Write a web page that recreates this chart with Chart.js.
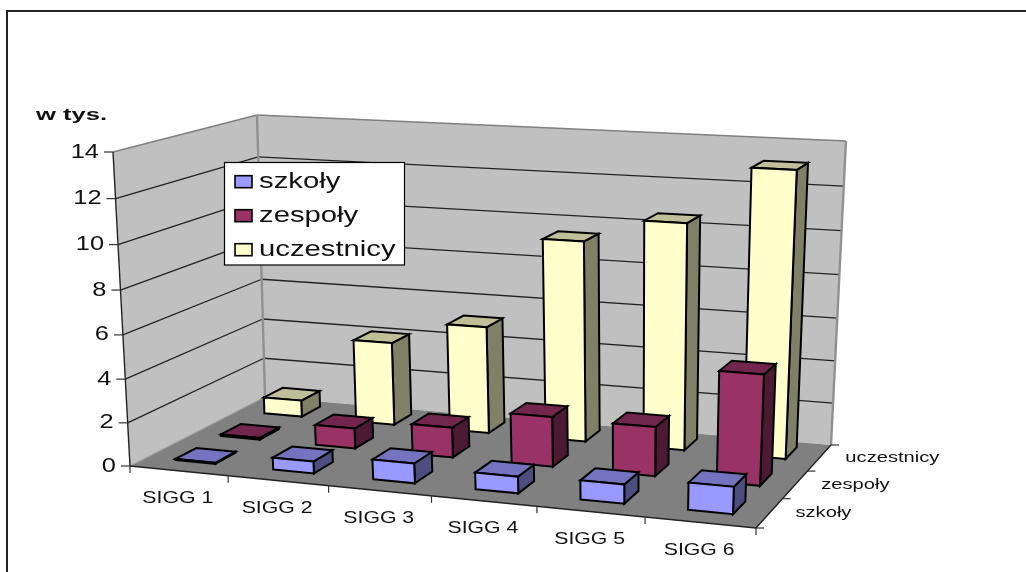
<!DOCTYPE html>
<html>
<head>
<meta charset="utf-8">
<title>SIGG</title>
<script src="https://cdn.jsdelivr.net/npm/chart.js@4"></script>
<style>
  html, body { margin: 0; background: #fff; }
  canvas { display: block; }
</style>
</head>
<body>
<canvas id="chart" width="1026" height="572"></canvas>
<script>
/* =====================
   DATA
===================== */

const categories = ['SIGG 1', 'SIGG 2', 'SIGG 3', 'SIGG 4', 'SIGG 5', 'SIGG 6'];
const seriesNames = ['szkoły', 'zespoły', 'uczestnicy'];
const szkoly = [0.05, 0.55, 0.9, 0.75, 0.85, 1.2];
const zespoly = [0.08, 0.95, 1.4, 2.3, 2.25, 5.0];
const uczestnicy = [0.8, 4.0, 5.1, 9.4, 10.5, 13.1];
const unitLabel = 'w tys.';

/* =====================
   3D VIEW
===================== */

// wall and floor corners as seen in the picture
const floorQuad = [[130, 466], [756, 528], [831, 445], [265, 397]];
const roofQuad = [[113, 152], [769, 190], [846, 141], [257, 115]];
const verticalRatio = 0.956;  // perspective shrink along the value axis
const perspectiveEase = 0.3;  // pulls the floor mapping part way to a plain bilinear one
const barWidth = 0.41;        // share of a category
const barDepth = 0.45;        // share of a depth band
const barDepthShift = 0.08;   // bars sit a little behind the middle of their band

const colors = [
    { front: '#9999ff', top: '#7373bf', side: '#4d4d80' },
    { front: '#993366', top: '#73264d', side: '#4d1a33' },
    { front: '#ffffcc', top: '#bfbf99', side: '#808066' }
];

function quadMap(q) {
    const [[x0, y0], [x1, y1], [x2, y2], [x3, y3]] = q;
    const dx1 = x1 - x2, dx2 = x3 - x2, sx = x0 - x1 + x2 - x3;
    const dy1 = y1 - y2, dy2 = y3 - y2, sy = y0 - y1 + y2 - y3;
    const det = dx1 * dy2 - dx2 * dy1;
    const g = (sx * dy2 - dx2 * sy) / det;
    const h = (dx1 * sy - sx * dy1) / det;
    return (u, v) => {
        const w = g * u + h * v + 1;
        const px = ((x1 - x0 + g * x1) * u + (x3 - x0 + h * x3) * v + x0) / w;
        const py = ((y1 - y0 + g * y1) * u + (y3 - y0 + h * y3) * v + y0) / w;
        const bx = x0 * (1 - u) * (1 - v) + x1 * u * (1 - v) + x2 * u * v + x3 * (1 - u) * v;
        const by = y0 * (1 - u) * (1 - v) + y1 * u * (1 - v) + y2 * u * v + y3 * (1 - u) * v;
        return [px + (bx - px) * perspectiveEase, py + (by - py) * perspectiveEase];
    };
}

const floorMap = quadMap(floorQuad);
const roofMap = quadMap(roofQuad);

function project(u, t, v) {
    const f = floorMap(u, v);
    const r = roofMap(u, v);
    const k = t * verticalRatio / ((1 - t) + t * verticalRatio);
    return [f[0] + (r[0] - f[0]) * k, f[1] + (r[1] - f[1]) * k];
}

/* =====================
   DRAW HELPERS
===================== */

function poly(ctx, pts, fill, stroke, lw) {
    ctx.beginPath();
    pts.forEach((p, i) => i ? ctx.lineTo(p[0], p[1]) : ctx.moveTo(p[0], p[1]));
    ctx.closePath();
    if (fill) {
        ctx.fillStyle = fill;
        ctx.fill();
    }
    if (stroke) {
        ctx.strokeStyle = stroke;
        ctx.lineWidth = lw;
        ctx.stroke();
    }
}

function line(ctx, a, b, color, lw) {
    ctx.beginPath();
    ctx.moveTo(a[0], a[1]);
    ctx.lineTo(b[0], b[1]);
    ctx.strokeStyle = color;
    ctx.lineWidth = lw;
    ctx.stroke();
}

function label(ctx, text, x, y, font, stretch, align) {
    ctx.save();
    ctx.font = font;
    ctx.fillStyle = '#111';
    ctx.textBaseline = 'middle';
    ctx.textAlign = align;
    ctx.translate(x, y);
    ctx.scale(stretch, 1);
    ctx.fillText(text, 0, 0);
    ctx.restore();
}

/* =====================
   3D PLUGIN
===================== */

const bars3d = {
    id: 'bars3d',
    beforeDatasetsDraw(chart) {
        const ctx = chart.ctx;
        const sx = chart.scales.x, sy = chart.scales.y, sz = chart.scales.depth;
        const U = i => (sx.getPixelForValue(i) - sx.left) / sx.width;
        const T = val => (sy.bottom - sy.getPixelForValue(val)) / sy.height;
        const V = i => (sz.bottom - sz.getPixelForValue(i)) / sz.height;
        const P = (i, val, j) => project(U(i), T(val), V(j));
        const xMin = -0.5, xMax = categories.length - 0.5;
        const zMin = -0.5, zMax = seriesNames.length - 0.5;
        const yMax = sy.max;

        ctx.lineJoin = 'miter';

        // frame
        line(ctx, [7, 572], [7, 11], '#222', 2);
        line(ctx, [6, 11], [1026, 11], '#222', 2);

        // walls and floor
        poly(ctx, [P(xMin, 0, zMin), P(xMin, yMax, zMin), P(xMin, yMax, zMax), P(xMin, 0, zMax)], '#c0c0c0');
        poly(ctx, [P(xMin, 0, zMax), P(xMin, yMax, zMax), P(xMax, yMax, zMax), P(xMax, 0, zMax)], '#c0c0c0');
        poly(ctx, [P(xMin, 0, zMin), P(xMax, 0, zMin), P(xMax, 0, zMax), P(xMin, 0, zMax)], '#808080');

        // gridlines
        sy.ticks.forEach(t => {
            if (t.value === 0 || t.value === yMax) return;
            line(ctx, P(xMin, t.value, zMin), P(xMin, t.value, zMax), '#222', 1.3);
            line(ctx, P(xMin, t.value, zMax), P(xMax, t.value, zMax), '#222', 1.3);
        });

        // wall edges
        line(ctx, P(xMin, yMax, zMin), P(xMin, yMax, zMax), '#808080', 1.6);
        line(ctx, P(xMin, yMax, zMax), P(xMax, yMax, zMax), '#808080', 1.6);
        line(ctx, P(xMin, 0, zMax), P(xMin, yMax, zMax), '#909090', 2.4);
        line(ctx, P(xMax, 0, zMax), P(xMax, yMax, zMax), '#909090', 2.4);
        line(ctx, P(xMin, 0, zMin), P(xMin, 0, zMax), '#a0a0a0', 1.4);

        // axis lines
        line(ctx, P(xMin, 0, zMin), P(xMin, yMax, zMin), '#222', 1.4);
        line(ctx, P(xMin, 0, zMin), P(xMax, 0, zMin), '#222', 1.4);
        line(ctx, P(xMax, 0, zMin), P(xMax, 0, zMax), '#222', 1.4);

        // value axis ticks and labels
        sy.ticks.forEach(t => {
            const p = P(xMin, t.value, zMin);
            line(ctx, p, [p[0] - 9, p[1]], '#333', 1.2);
            label(ctx, String(t.value), p[0] - 14, p[1], '20px "Liberation Sans"', 1.27, 'right');
        });

        // category ticks and labels
        for (let i = 0; i <= categories.length; i++) {
            const p = P(i - 0.5, 0, zMin);
            line(ctx, p, [p[0], p[1] + 7], '#333', 1.2);
        }
        categories.forEach((c, i) => {
            const p = P(i, 0, zMin);
            label(ctx, c, p[0] - 1, p[1] + 27.5, '17px "Liberation Sans"', 1.25, 'center');
        });

        // depth ticks and labels
        for (let j = 0; j <= seriesNames.length; j++) {
            const p = P(xMax, 0, j - 0.5);
            line(ctx, p, [p[0] + 8, p[1]], '#333', 1.2);
        }
        seriesNames.forEach((s, j) => {
            const p = P(xMax, 0, j);
            label(ctx, s, p[0] + 26, p[1], '15.5px "Liberation Sans"', 1.3, 'left');
        });

        // bars, back row first
        for (let j = seriesNames.length - 1; j >= 0; j--) {
            const data = chart.data.datasets[j].data;
            data.forEach((val, i) => {
                const x0 = i - barWidth / 2, x1 = i + barWidth / 2;
                const z0 = j + barDepthShift - barDepth / 2, z1 = j + barDepthShift + barDepth / 2;
                const c = colors[j];
                poly(ctx, [P(x1, 0, z0), P(x1, 0, z1), P(x1, val, z1), P(x1, val, z0)], c.side, '#000', 2);
                poly(ctx, [P(x0, val, z0), P(x1, val, z0), P(x1, val, z1), P(x0, val, z1)], c.top, '#000', 2);
                poly(ctx, [P(x0, 0, z0), P(x1, 0, z0), P(x1, val, z0), P(x0, val, z0)], c.front, '#000', 2);
            });
        }

        // unit label
        label(ctx, unitLabel, 36, 116, 'bold 16px "Liberation Sans"', 1.6, 'left');

        // legend
        ctx.fillStyle = '#fff';
        ctx.fillRect(224.5, 162.5, 180, 102.5);
        ctx.strokeStyle = '#000';
        ctx.lineWidth = 1.2;
        ctx.strokeRect(224.5, 162.5, 180, 102.5);
        chart.data.datasets.forEach((d, j) => {
            const y = 181.7 + j * 34;
            ctx.fillStyle = d.backgroundColor;
            ctx.fillRect(235, y - 6, 17, 12);
            ctx.strokeStyle = '#000';
            ctx.lineWidth = 1.6;
            ctx.strokeRect(235, y - 6, 17, 12);
            label(ctx, d.label, 259, y, '22px "Liberation Sans"', 1.33, 'left');
        });

        return false;
    }
};

/* =====================
   CREATE CHART
===================== */

const chartCtx = document.getElementById('chart').getContext('2d');

const chart3d = new Chart(chartCtx, {
    type: 'bar',
    data: {
        labels: categories,
        datasets: [
            { label: seriesNames[0], data: szkoly, backgroundColor: colors[0].front },
            { label: seriesNames[1], data: zespoly, backgroundColor: colors[1].front },
            { label: seriesNames[2], data: uczestnicy, backgroundColor: colors[2].front }
        ]
    },
    options: {
        responsive: false,
        animation: false,
        layout: { padding: 0 },
        plugins: {
            legend: { display: false },
            tooltip: { enabled: false }
        },
        scales: {
            x: { type: 'category', display: false, offset: true },
            y: { type: 'linear', display: false, min: 0, max: 14, ticks: { stepSize: 2 } },
            depth: { type: 'category', axis: 'y', display: false, labels: seriesNames, reverse: true, offset: true }
        }
    },
    plugins: [bars3d]
});
</script>
</body>
</html>
